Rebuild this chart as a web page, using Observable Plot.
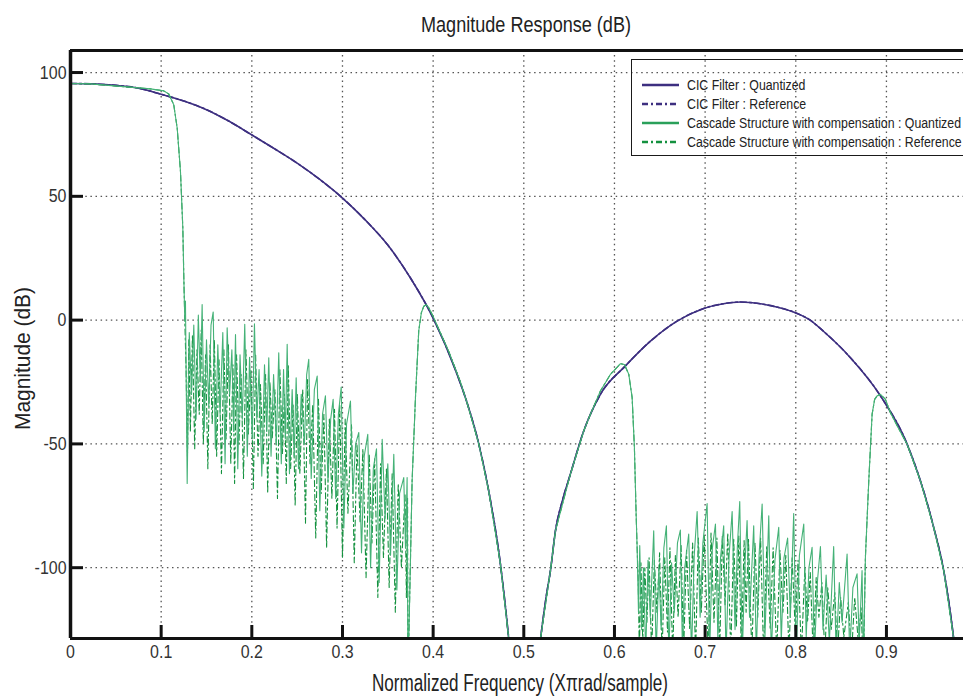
<!DOCTYPE html>
<html><head><meta charset="utf-8">
<script src="https://cdn.jsdelivr.net/npm/d3@7"></script>
<script src="https://cdn.jsdelivr.net/npm/@observablehq/plot@0.6"></script>
<style>
body{margin:0;background:#fff;}
#wrap{position:relative;width:963px;height:697px;overflow:hidden;font-family:"Liberation Sans Narrow","Arial Narrow","Liberation Sans",sans-serif;}
#legend{position:absolute;left:631px;top:59px;width:345px;height:97px;border:1.5px solid #1a1a1a;box-sizing:border-box;}
.row{position:absolute;left:10px;height:18px;display:flex;align-items:center;font-size:15.5px;color:#222;white-space:nowrap;}
.row svg{margin-right:8px;flex:none;}
.row span{display:inline-block;transform-origin:0 50%;}
</style></head><body><div id="wrap"></div>
<script>
// ---- axis ticks & labels ----
const xTicks = [0, 0.1, 0.2, 0.3, 0.4, 0.5, 0.6, 0.7, 0.8, 0.9];
const yTicks = [-100, -50, 0, 50, 100];
const titleText = "Magnitude Response (dB)";
const xLabelText = "Normalized Frequency (X\u03C0rad/sample)";
const yLabelText = "Magnitude (dB)";
const legendLabels = ["CIC Filter : Quantized", "CIC Filter : Reference",
  "Cascade Structure with compensation : Quantized", "Cascade Structure with compensation : Reference"];

// ---- CIC filter magnitude (normalized freq, dB) ----
const cicPoints = [[0,95.6],[0.025,95.4],[0.05,94.8],[0.075,93.7],[0.1,91.2],[0.125,88.5],[0.15,85.0],[0.175,80.3],[0.2,74.8],[0.225,69.2],[0.25,63.4],[0.275,56.8],[0.3,49.3],[0.325,40.5],[0.35,30.3],[0.375,17.0],[0.4,0.8],[0.425,-20.5],[0.4375,-33.5],[0.45,-49.5],[0.4613,-69],[0.4742,-98.5],[0.4834,-128.8],[0.4875,-145],[0.5130,-145],[0.5184,-128.8],[0.525,-111],[0.5294,-101.2],[0.5349,-85.1],[0.5425,-73],[0.5514,-62.2],[0.5661,-44.8],[0.5845,-30.0],[0.6121,-18.5],[0.6397,-8.5],[0.6691,-0.4],[0.6985,4.7],[0.72,6.6],[0.7389,7.3],[0.761,6.6],[0.78,5.2],[0.7996,3.0],[0.815,0.2],[0.8308,-4.6],[0.8603,-15.2],[0.8934,-30.6],[0.9228,-50.1],[0.9521,-83.7],[0.9632,-101.2],[0.9742,-128.8],[0.979,-145]];

// ---- Cascade structure: shared passband ----
const cascPass = [[0,95.6],[0.0221,95.4],[0.0882,93.4],[0.1029,92.6],[0.1084,91.3],[0.1139,87.0],[0.1177,77.5],[0.1213,60.1],[0.1239,37.2],[0.1250,17.1],[0.1261,-0.4]];
// first stopband, quantized
const stop1Q = [[0.1268,7.7],[0.1287,-66],[0.1310,-5],[0.1335,-30],[0.1360,-2],[0.1385,-40],[0.1410,2],[0.1432,-25],[0.1452,6.3],[0.1475,-45],[0.1500,-8],[0.1525,-35],[0.1550,-2],[0.1574,3.3],[0.1598,-52],[0.1625,-10],[0.1650,-38],[0.1680,-5],[0.1705,-58],[0.1728,-3.1],[0.1755,-30],[0.1780,-12],[0.1800,-45],[0.1820,-5.8],[0.1845,-60],[0.1870,-14],[0.1895,-40],[0.1922,-1.7],[0.1950,-55],[0.1975,-15],[0.2005,-48],[0.2029,-1.5],[0.2055,-40],[0.2080,-20],[0.2110,-63],[0.2140,-18],[0.2165,-45],[0.2187,-15.2],[0.2212,-55],[0.2240,-22],[0.2270,-50],[0.2297,-13.2],[0.2325,-58],[0.2350,-20],[0.2370,-48],[0.2390,-9.8],[0.2415,-62],[0.2445,-28],[0.2468,-55],[0.2489,-23.3],[0.2515,-60],[0.2545,-30],[0.2580,-50],[0.2605,-22],[0.2628,-15.8],[0.2655,-64],[0.2690,-28],[0.2721,-22.6],[0.2750,-77],[0.2780,-38],[0.2812,-30.6],[0.2840,-65],[0.2870,-40],[0.2897,-32],[0.2925,-72],[0.2955,-38],[0.2986,-27],[0.3015,-84],[0.3045,-42],[0.3088,-32.7],[0.3115,-70],[0.3145,-50],[0.3180,-45.4],[0.3210,-94],[0.3240,-55],[0.3279,-46.1],[0.3310,-100],[0.3340,-60],[0.3375,-52],[0.3405,-106],[0.3438,-48.1],[0.3470,-80],[0.3500,-58],[0.3530,-95],[0.3566,-54.2],[0.3600,-109],[0.3630,-70],[0.3676,-63.6],[0.3695,-92],[0.3713,-63.6]];
// first stopband, reference
const stop1R = [[0.1275,-20],[0.1290,-55],[0.1305,-8],[0.1322,-45],[0.1345,-6],[0.1370,-52],[0.1395,-12],[0.1420,-38],[0.1442,-4],[0.1465,-50],[0.1490,-14],[0.1515,-60],[0.1540,-10],[0.1563,-42],[0.1587,-8],[0.1612,-55],[0.1638,-16],[0.1665,-62],[0.1692,-12],[0.1716,-48],[0.1742,-10],[0.1768,-58],[0.1792,-18],[0.1810,-66],[0.1832,-14],[0.1858,-50],[0.1882,-22],[0.1908,-64],[0.1935,-12],[0.1962,-46],[0.1990,-20],[0.2017,-68],[0.2042,-14],[0.2068,-55],[0.2095,-26],[0.2125,-58],[0.2152,-22],[0.2175,-70],[0.2200,-25],[0.2225,-48],[0.2255,-28],[0.2283,-72],[0.2310,-20],[0.2338,-54],[0.2360,-30],[0.2380,-66],[0.2402,-18],[0.2428,-60],[0.2455,-34],[0.2478,-75],[0.2502,-30],[0.2530,-62],[0.2562,-28],[0.2592,-82],[0.2615,-24],[0.2642,-58],[0.2672,-34],[0.2705,-88],[0.2735,-32],[0.2765,-70],[0.2795,-38],[0.2825,-92],[0.2855,-40],[0.2883,-72],[0.2912,-36],[0.2940,-84],[0.2970,-34],[0.3000,-96],[0.3030,-40],[0.3060,-78],[0.3100,-42],[0.3130,-98],[0.3160,-50],[0.3195,-82],[0.3225,-52],[0.3260,-104],[0.3295,-54],[0.3325,-90],[0.3355,-56],[0.3390,-112],[0.3420,-58],[0.3452,-96],[0.3485,-60],[0.3515,-108],[0.3548,-62],[0.3583,-118],[0.3615,-66],[0.3650,-100],[0.3690,-70],[0.3705,-112],[0.3718,-72]];
// transition band, lobes around 0.39 and 0.61 (shared)
const cascTrans1 = [[0.3722,-140],[0.3731,-130],[0.3768,-65],[0.3805,-31.3],[0.3841,-4.4],[0.3870,3],[0.3897,5.6],[0.3925,6.2],[0.3952,5.0],[0.4000,1.5],[0.4044,-2.2],[0.4170,-12.5],[0.4301,-25],[0.4375,-33.5],[0.45,-49.5],[0.4613,-69],[0.4742,-98.5],[0.4834,-128.8],[0.4875,-140],[0.5130,-140],[0.5184,-128.8],[0.5294,-101.2],[0.5349,-85.1],[0.5514,-62.2],[0.5661,-44.8],[0.5735,-38],[0.5845,-28.6],[0.5956,-21.9],[0.6066,-17.6],[0.6110,-17.9],[0.6158,-21.9],[0.6195,-31.3],[0.6220,-51.5],[0.6239,-78.4],[0.6250,-91.8]];
// second stopband, quantized
const stop2Q = [[0.6265,-118],[0.6279,-91.1],[0.6300,-125],[0.6320,-100],[0.6345,-135],[0.6370,-97],[0.6395,-120],[0.6433,-85.1],[0.6460,-135],[0.6490,-100],[0.6515,-125],[0.6545,-92],[0.6573,-83.1],[0.6600,-135],[0.6630,-98],[0.6660,-118],[0.6695,-90],[0.6727,-84.8],[0.6750,-135],[0.6775,-100],[0.6819,-86.4],[0.6850,-135],[0.6880,-95],[0.6912,-77.3],[0.6945,-120],[0.6975,-90],[0.7022,-74.1],[0.7050,-135],[0.7080,-92],[0.7114,-82.4],[0.7140,-128],[0.7170,-96],[0.7205,-83.1],[0.7230,-135],[0.7265,-95],[0.7298,-77.3],[0.7330,-125],[0.7355,-92],[0.7382,-73.3],[0.7410,-135],[0.7440,-98],[0.7463,-81],[0.7490,-120],[0.7536,-83.1],[0.7565,-135],[0.7595,-95],[0.7629,-74.3],[0.7660,-128],[0.7702,-79],[0.7730,-135],[0.7770,-97],[0.7812,-83.7],[0.7840,-130],[0.7870,-96],[0.7910,-88],[0.7940,-120],[0.7977,-78.1],[0.8005,-135],[0.8040,-95],[0.8088,-82.4],[0.8115,-128],[0.8145,-100],[0.8180,-91.8],[0.8205,-135],[0.8240,-105],[0.8272,-91.5],[0.8300,-125],[0.8335,-103],[0.8370,-130],[0.8418,-91.5],[0.8445,-135],[0.8480,-106],[0.8510,-122],[0.8566,-94.5],[0.8595,-135],[0.8630,-108],[0.8676,-102.5],[0.8700,-130],[0.8731,-101.2],[0.8745,-135]];
// second stopband, reference
const stop2R = [[0.6262,-105],[0.6275,-135],[0.6292,-98],[0.6312,-130],[0.6335,-100],[0.6358,-122],[0.6382,-96],[0.6410,-135],[0.6440,-97],[0.6468,-118],[0.6498,-94],[0.6525,-135],[0.6555,-96],[0.6585,-126],[0.6612,-92],[0.6642,-135],[0.6672,-95],[0.6702,-120],[0.6735,-91],[0.6762,-135],[0.6795,-93],[0.6830,-125],[0.6862,-90],[0.6895,-135],[0.6925,-88],[0.6958,-118],[0.6990,-87],[0.7035,-135],[0.7065,-86],[0.7098,-122],[0.7130,-88],[0.7160,-135],[0.7190,-87],[0.7220,-115],[0.7250,-86],[0.7282,-135],[0.7315,-88],[0.7345,-124],[0.7372,-87],[0.7400,-135],[0.7430,-89],[0.7452,-118],[0.7478,-88],[0.7515,-135],[0.7550,-90],[0.7580,-120],[0.7612,-88],[0.7645,-135],[0.7680,-91],[0.7718,-125],[0.7750,-92],[0.7790,-135],[0.7825,-93],[0.7858,-118],[0.7890,-95],[0.7925,-135],[0.7960,-96],[0.7995,-126],[0.8025,-97],[0.8062,-135],[0.8100,-100],[0.8130,-122],[0.8160,-102],[0.8192,-135],[0.8225,-104],[0.8255,-120],[0.8288,-106],[0.8320,-135],[0.8352,-108],[0.8390,-125],[0.8430,-110],[0.8460,-135],[0.8495,-112],[0.8530,-128],[0.8580,-114],[0.8615,-135],[0.8650,-112],[0.8690,-130],[0.8720,-116],[0.8740,-135]];
// final lobe around 0.9 (shared)
const cascTrans2 = [[0.8752,-128.8],[0.8768,-95.8],[0.8805,-65],[0.8842,-38],[0.8870,-32],[0.8897,-30.6],[0.8934,-30],[0.8989,-32],[0.9044,-37.4],[0.9130,-43.5],[0.9228,-50.1],[0.9380,-65.5],[0.9521,-83.7],[0.9632,-101.2],[0.9742,-128.8],[0.9790,-140]];

const toRows = arr => arr.map(([f, db]) => ({f, db}));
const cicQ = toRows(cicPoints);
const cicR = toRows(cicPoints);
const cascQ = toRows([...cascPass, ...stop1Q, ...cascTrans1, ...stop2Q, ...cascTrans2]);
const cascR = toRows([...cascPass, ...stop1R, ...cascTrans1, ...stop2R, ...cascTrans2]);

const purple = "#3d2f80", greenQ = "#45b277", greenR = "#14913f";
const legendColors = [purple, purple, "#2aa05a", greenR];
const legendDash = [null, "6,3,2,3", null, "6,3,2,3"];
const yMin = -128.6, yMax = 108.9, xMax = 0.985;
const font = '"Liberation Sans Narrow","Arial Narrow","Liberation Sans",sans-serif';
const grid = {stroke: "#555", strokeOpacity: 1, strokeWidth: 1.3, strokeDasharray: "1.5,3.6"};

const chart = Plot.plot({
  width: 963, height: 697,
  marginTop: 50, marginBottom: 59, marginLeft: 70, marginRight: 0,
  style: {fontFamily: font, background: "white", color: "#222"},
  x: {domain: [0, xMax]},
  y: {domain: [yMin, yMax]},
  marks: [
    Plot.gridX(xTicks.filter(d => d > 0), grid),
    Plot.gridY(yTicks, grid),
    Plot.line(cicR, {x: "f", y: "db", stroke: purple, strokeWidth: 1.6, strokeDasharray: "6,3,2,3", curve: "monotone-x", clip: true}),
    Plot.line(cicQ, {x: "f", y: "db", stroke: purple, strokeWidth: 1.6, curve: "monotone-x", clip: true}),
    Plot.line(cascR, {x: "f", y: "db", stroke: greenR, strokeWidth: 1.1, strokeDasharray: "6,3,2,3", clip: true}),
    Plot.line(cascQ, {x: "f", y: "db", stroke: greenQ, strokeWidth: 1.1, clip: true}),
    Plot.axisX(xTicks, {tickSize: -13, tickPadding: 19, strokeWidth: 3, stroke: "#111", fontSize: 19, fill: "#333",
      tickFormat: d => d === 0 ? "0" : d.toFixed(1), label: null}),
    Plot.axisY(yTicks, {tickSize: -13, tickPadding: 17, strokeWidth: 3, stroke: "#111", fontSize: 19, fill: "#333",
      tickFormat: d => String(d), label: null}),
    Plot.ruleX([0], {stroke: "#111", strokeWidth: 3.5}),
    Plot.ruleY([yMin], {stroke: "#111", strokeWidth: 3}),
    Plot.ruleY([yMax], {stroke: "#111", strokeWidth: 3}),
    Plot.text([titleText], {text: d => d, frameAnchor: "top", lineAnchor: "middle", dx: 9, dy: -26, fontSize: 22, fill: "#222"}),
    Plot.text([xLabelText], {text: d => d, frameAnchor: "bottom", lineAnchor: "middle", dx: 3, dy: 45, fontSize: 23, fill: "#222"}),
    Plot.text([yLabelText], {text: d => d, frameAnchor: "left", lineAnchor: "middle", dx: -48, dy: 14, rotate: -90, textAnchor: "middle", fontSize: 22, fill: "#222"})
  ]
});

const wrap = document.getElementById("wrap");
wrap.appendChild(chart);

// emulate the condensed face of the original
const targetWidths = new Map([[titleText, 210], [xLabelText, 296], [yLabelText, 143]]);
chart.querySelectorAll("text").forEach(t => {
  const s = t.textContent;
  const w = t.getComputedTextLength();
  const target = targetWidths.has(s) ? targetWidths.get(s) : w * 0.84;
  t.setAttribute("textLength", target);
  t.setAttribute("lengthAdjust", "spacingAndGlyphs");
});

const legend = document.createElement("div");
legend.id = "legend";
const rowCenters = [26, 45, 64, 83];
const spans = [];
legendLabels.forEach((label, i) => {
  const row = document.createElement("div");
  row.className = "row";
  row.style.top = (rowCenters[i] - 10.5) + "px";
  const dash = legendDash[i] ? `stroke-dasharray="${legendDash[i]}"` : "";
  row.innerHTML = `<svg width="37" height="10"><line x1="0" y1="5" x2="37" y2="5" stroke="${legendColors[i]}" stroke-width="2.6" ${dash}/></svg><span>${label}</span>`;
  legend.appendChild(row);
  spans.push(row.querySelector("span"));
});
wrap.appendChild(legend);
const scale = 274 / spans[2].getBoundingClientRect().width;
spans.forEach(s => { s.style.transform = `scaleX(${scale})`; });
</script>
</body></html>
